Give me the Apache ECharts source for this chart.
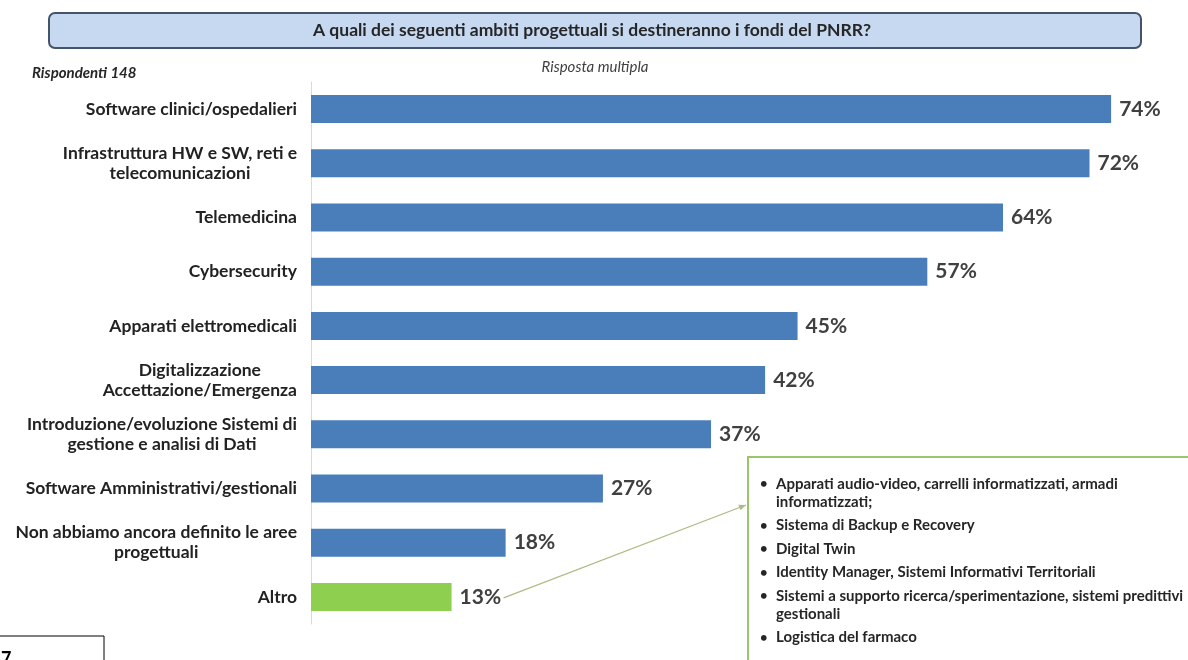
<!DOCTYPE html>
<html>
<head>
<meta charset="utf-8">
<script src="https://cdn.jsdelivr.net/npm/echarts@6/dist/echarts.min.js"></script>
<style>
  html, body { margin: 0; padding: 0; background: #ffffff; }
  #chart { width: 1188px; height: 660px; }
</style>
</head>
<body>
<div id="chart"></div>
<script>
// Ambiti progettuali (top to bottom)
const categories = [
  'Software clinici/ospedalieri',
  'Infrastruttura HW e SW, reti e\ntelecomunicazioni',
  'Telemedicina',
  'Cybersecurity',
  'Apparati elettromedicali',
  'Digitalizzazione\nAccettazione/Emergenza',
  'Introduzione/evoluzione Sistemi di\ngestione e analisi di Dati',
  'Software Amministrativi/gestionali',
  'Non abbiamo ancora definito le aree\nprogettuali',
  'Altro'
];
// Percentuale di rispondenti
const values = [74, 72, 64, 57, 45, 42, 37, 27, 18, 13];
// Dettaglio della voce "Altro"
const altroItems = [
  'Apparati audio-video, carrelli informatizzati, armadi\ninformatizzati;',
  'Sistema di Backup e Recovery',
  'Digital Twin',
  'Identity Manager, Sistemi Informativi Territoriali',
  'Sistemi a supporto ricerca/sperimentazione, sistemi predittivi\ngestionali',
  'Logistica del farmaco'
];
const titleText = 'A quali dei seguenti ambiti progettuali si destineranno i fondi del PNRR?';
const respondentsText = 'Rispondenti 148';
const noteText = 'Risposta multipla';
const pageNumber = '7';

const FONT = 'Lato, "Open Sans", sans-serif';
const BLUE = '#4a7ebb';
const GREEN = '#8fcf4f';

const chart = echarts.init(document.getElementById('chart'), null, { renderer: 'canvas' });

const barData = values.map((v, i) => ({
  value: v,
  itemStyle: { color: categories[i] === 'Altro' ? GREEN : BLUE }
}));

const option = {
  backgroundColor: '#ffffff',
  animation: false,
  grid: { left: 311, right: 12, top: 82, bottom: 36, containLabel: false },
  xAxis: {
    type: 'value', min: 0, max: 80,
    show: false
  },
  yAxis: {
    type: 'category',
    data: categories,
    inverse: true,
    axisLine: { show: true, lineStyle: { color: '#d9d9d9', width: 1 } },
    axisTick: { show: false },
    axisLabel: {
      margin: 14,
      formatter: (val) => val.split('\n').map(l => '{c|' + l + '}').join('\n'),
      rich: {
        c: {
          align: 'center',
          fontFamily: FONT, fontWeight: 'bold', fontSize: 17.5,
          color: '#222222', lineHeight: 20
        }
      }
    }
  },
  series: [{
    type: 'bar',
    data: barData,
    barWidth: 28,
    label: {
      show: true, position: 'right', distance: 8,
      formatter: '{c}%',
      fontFamily: FONT, fontWeight: 'bold', fontSize: 21, color: '#404040'
    }
  }],
  graphic: [
    {
      type: 'rect', left: 48, top: 12, z: 10,
      shape: { width: 1092, height: 35, r: 6 },
      style: { fill: '#c6d9f1', stroke: '#44546a', lineWidth: 2 }
    },
    {
      type: 'text', x: 592, y: 30, z: 11,
      style: {
        text: titleText, align: 'center', verticalAlign: 'middle',
        font: 'bold 17.5px ' + FONT, fill: '#262626'
      }
    },
    {
      type: 'text', x: 32, y: 73, z: 11,
      style: {
        text: respondentsText, align: 'left', verticalAlign: 'middle',
        font: 'italic bold 15px ' + FONT, fill: '#262626'
      }
    },
    {
      type: 'text', x: 595, y: 67, z: 11,
      style: {
        text: noteText, align: 'center', verticalAlign: 'middle',
        font: 'italic 15px ' + FONT, fill: '#404040'
      }
    },
    {
      type: 'rect', x: -1, y: 636, z: 10,
      shape: { width: 105, height: 30 },
      style: { fill: '#ffffff', stroke: '#000000', lineWidth: 1 }
    },
    {
      type: 'text', x: 1, y: 650, z: 11,
      style: { text: pageNumber, font: 'bold 18px ' + FONT, fill: '#000000' }
    }
  ]
};
chart.setOption(option);

// Callout with the "Altro" details, linked to the Altro bar label
const altroIdx = categories.indexOf('Altro');
const barEnd = chart.convertToPixel({ seriesIndex: 0 }, [values[altroIdx], altroIdx]);
const boxX = 748, boxY = 457;
const start = [barEnd[0] + 52, barEnd[1] + 1];
const end = [boxX - 2, boxY + 48];

const lines = [];
let ty = boxY + 27;
altroItems.forEach((item) => {
  const parts = item.split('\n');
  lines.push({
    type: 'text', x: boxX + 12, y: ty, z: 21,
    style: { text: '•', font: 'bold 13px ' + FONT, fill: '#262626', verticalAlign: 'middle' }
  });
  parts.forEach((p, k) => {
    lines.push({
      type: 'text', x: boxX + 28, y: ty, z: 21,
      style: { text: p, font: 'bold 15px ' + FONT, fill: '#262626', verticalAlign: 'middle' }
    });
    ty += (k < parts.length - 1) ? 18 : 23.5;
  });
});

const ang = Math.atan2(end[1] - start[1], end[0] - start[0]);
const ah = 7, aw = 3;
const head = [
  end,
  [end[0] - ah * Math.cos(ang) + aw * Math.sin(ang), end[1] - ah * Math.sin(ang) - aw * Math.cos(ang)],
  [end[0] - ah * Math.cos(ang) - aw * Math.sin(ang), end[1] - ah * Math.sin(ang) + aw * Math.cos(ang)]
];

chart.setOption({
  graphic: option.graphic.concat([
    {
      type: 'rect', x: boxX, y: boxY, z: 20,
      shape: { width: 460, height: 230 },
      style: { fill: '#ffffff', stroke: '#9cc46a', lineWidth: 2 }
    },
    {
      type: 'line', z: 22,
      shape: { x1: start[0], y1: start[1], x2: end[0], y2: end[1] },
      style: { stroke: '#a9bd84', lineWidth: 1.2 }
    },
    {
      type: 'polygon', z: 22,
      shape: { points: head },
      style: { fill: '#a9bd84' }
    }
  ]).concat(lines)
});
</script>
</body>
</html>
